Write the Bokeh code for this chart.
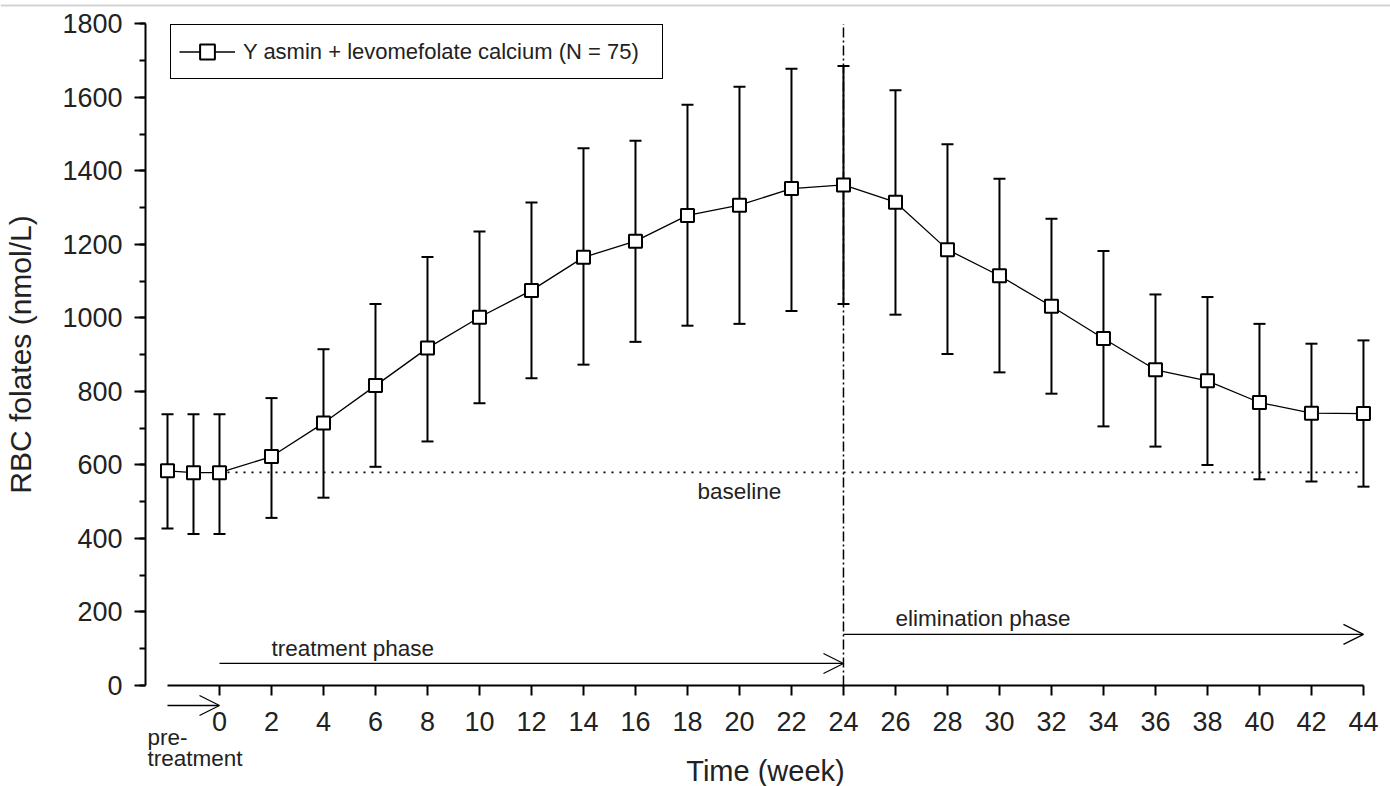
from bokeh.plotting import figure
from bokeh.models import (Range1d, FixedTicker, Whisker, TeeHead, Arrow, OpenHead,
                          Label, Legend, LegendItem, ColumnDataSource, Span)
from bokeh.embed import file_html
from bokeh.resources import INLINE

# ---------------- data ----------------
weeks = [-2, -1, 0, 2, 4, 6, 8, 10, 12, 14, 16, 18, 20, 22, 24,
         26, 28, 30, 32, 34, 36, 38, 40, 42, 44]
rbc_mean = [584, 579, 579, 623, 714, 816, 918, 1002, 1075, 1165, 1209, 1279, 1307,
            1352, 1362, 1315, 1186, 1115, 1032, 944, 859, 829, 770, 741, 740]
rbc_upper = [738, 738, 738, 782, 915, 1038, 1166, 1235, 1314, 1462, 1482, 1580, 1629,
             1678, 1686, 1620, 1473, 1379, 1270, 1182, 1064, 1057, 984, 930, 939]
rbc_lower = [427, 412, 412, 456, 511, 595, 664, 768, 836, 873, 935, 979, 984,
             1019, 1038, 1009, 902, 852, 794, 705, 650, 600, 561, 555, 541]
x_ticks = list(range(0, 45, 2))
y_ticks = list(range(0, 1801, 200))
y_minor = list(range(100, 1800, 200))
baseline = 580
phase_split = 24          # end of treatment phase (week)
series_label = "Y asmin + levomefolate calcium (N = 75)"

FONT = "Liberation Sans"
TXT = "#222222"

src = ColumnDataSource(dict(x=weeks, mean=rbc_mean, upper=rbc_upper, lower=rbc_lower))

p = figure(width=1390, height=786,
           x_range=Range1d(-8.423, 45.04), y_range=Range1d(-274.9, 1863.9),
           output_backend="svg", toolbar_location=None,
           min_border_left=0, min_border_right=0, min_border_top=0, min_border_bottom=0)
p.outline_line_color = None
p.grid.visible = False
p.background_fill_color = "white"

# thin grey rule across the top of the page
p.add_layout(Span(location=1850.3, dimension="width", line_color="#d2d2d2", line_width=2))

# ---------------- axes ----------------
xa = p.xaxis[0]
xa.fixed_location = 0
xa.ticker = FixedTicker(ticks=x_ticks)
xa.bounds = (weeks[0], weeks[-1])
xa.axis_label = "Time (week)"
ya = p.yaxis[0]
ya.fixed_location = -2.846
ya.ticker = FixedTicker(ticks=y_ticks, minor_ticks=y_minor + y_ticks)
ya.bounds = (y_ticks[0], y_ticks[-1])
ya.axis_label = "RBC folates (nmol/L)"

for ax in (xa, ya):
    ax.axis_line_width = 2
    ax.axis_line_color = "black"
    ax.major_tick_line_width = 2
    ax.major_tick_line_color = "black"
    ax.minor_tick_line_width = 2
    ax.minor_tick_line_color = "black"
    ax.major_tick_in = 0
    ax.minor_tick_in = 0
    ax.major_label_text_font = FONT
    ax.major_label_text_font_size = "27px"
    ax.major_label_text_color = TXT
    ax.axis_label_text_font = FONT
    ax.axis_label_text_font_style = "normal"
    ax.axis_label_text_color = TXT

xa.axis_label_text_font_size = "29px"
ya.axis_label_text_font_size = "30px"
xa.major_tick_out = 10
xa.minor_tick_out = 0
xa.major_label_standoff = 17
xa.axis_label_standoff = 20
ya.major_tick_out = 11
ya.minor_tick_out = 6
ya.major_label_standoff = 12
ya.axis_label_standoff = 22

# ---------------- reference lines ----------------
p.segment(x0=[phase_split], y0=[y_ticks[0]], x1=[phase_split], y1=[y_ticks[-1]],
          line_color="black", line_width=1.5, line_dash="10 3 2 3")
p.segment(x0=[0], y0=[baseline], x1=[weeks[-1]], y1=[baseline],
          line_color="black", line_width=1.6, line_dash="2 6")

# ---------------- error bars + series ----------------
whisk = Whisker(source=src, base="x", upper="upper", lower="lower", dimension="height",
                line_color="black", line_width=2, level="underlay",
                upper_head=TeeHead(size=12, line_width=2, line_color="black"),
                lower_head=TeeHead(size=12, line_width=2, line_color="black"))
p.add_layout(whisk)

ln = p.line("x", "mean", source=src, line_color="black", line_width=1.3)
sc = p.scatter("x", "mean", source=src, marker="square", size=13,
               fill_color="white", line_color="black", line_width=2)

# ---------------- phase arrows and texts ----------------
def arrow(x0, x1, y):
    p.add_layout(Arrow(x_start=x0, y_start=y, x_end=x1, y_end=y,
                       line_color="black", line_width=1.3,
                       end=OpenHead(size=20, line_width=1.2, line_color="black")))

arrow(0, phase_split, 60)
arrow(phase_split, weeks[-1], 139)
arrow(weeks[0], 0, -54.5)

def label(x, y, text, align="left"):
    p.add_layout(Label(x=x, y=y, text=text, text_align=align, text_baseline="middle",
                       text_font=FONT, text_font_size="22.5px", text_color=TXT))

label(2, 101, "treatment phase")
label(26, 182, "elimination phase")
label(20, 528, "baseline", align="center")
label(-2.77, -142, "pre-")
label(-2.77, -199, "treatment")

# ---------------- legend ----------------
legend = Legend(items=[LegendItem(label=series_label, renderers=[ln, sc])],
                location=(170, 707), orientation="vertical",
                glyph_width=56, glyph_height=37, padding=8, margin=0,
                label_standoff=8, spacing=0, label_width=411,
                label_text_font=FONT, label_text_font_size="22px", label_text_color=TXT,
                border_line_color="black", border_line_width=1.5, border_line_alpha=1,
                background_fill_color="white", background_fill_alpha=1)
p.add_layout(legend)

open("out.html", "w").write(file_html(p, INLINE))
